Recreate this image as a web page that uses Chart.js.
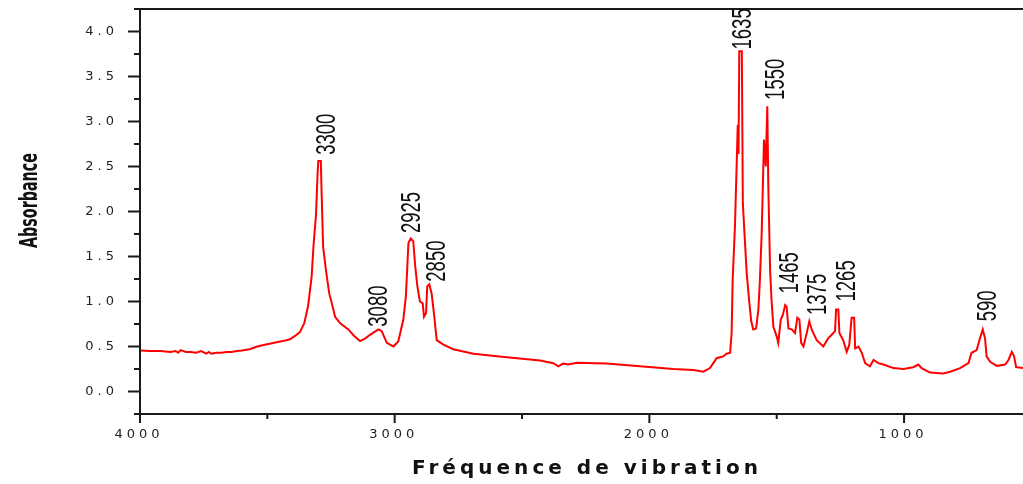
<!DOCTYPE html>
<html>
<head>
<meta charset="utf-8">
<script src="https://cdn.jsdelivr.net/npm/chart.js@4.4.1/dist/chart.umd.min.js"></script>
<style>
  html, body { margin: 0; padding: 0; background: #ffffff; }
  #wrap { width: 1023px; height: 484px; }
</style>
</head>
<body>
<div id="wrap"><canvas id="c" width="1023" height="484"></canvas></div>
<script>
// ---- Data ----
const wavenumbers = [
  4000, 3960, 3920, 3880, 3860, 3850, 3840, 3820, 3800, 3780, 3760, 3740, 3730, 3720, 3700, 3680, 3660, 3640, 3620, 3600,
  3570, 3540, 3510, 3477, 3440, 3411, 3390, 3372, 3355, 3340, 3326, 3319, 3309, 3303, 3300, 3290, 3287, 3281, 3270, 3257,
  3247, 3234, 3215, 3182, 3160, 3136, 3115, 3097, 3064, 3051, 3031, 3005, 2986, 2966, 2956, 2946, 2937, 2927, 2920, 2911,
  2901, 2890, 2885, 2877, 2872, 2864, 2855, 2846, 2835, 2809, 2770, 2691, 2560, 2429, 2377, 2357, 2345, 2338, 2320, 2285,
  2168, 2037, 1906, 1827, 1788, 1762, 1749, 1736, 1723, 1710, 1697, 1683, 1677, 1673, 1664, 1653, 1650, 1647, 1637, 1633,
  1618, 1608, 1600, 1592, 1581, 1572, 1566, 1559, 1550, 1543, 1537, 1533, 1526, 1520, 1513, 1500, 1494, 1484, 1476, 1467,
  1461, 1454, 1441, 1428, 1419, 1411, 1404, 1395, 1382, 1372, 1363, 1343, 1317, 1298, 1284, 1271, 1267, 1258, 1254, 1239,
  1225, 1215, 1206, 1196, 1192, 1179, 1166, 1153, 1134, 1120, 1101, 1081, 1042, 1003, 964, 944, 931, 898, 846, 819,
  780, 747, 735, 715, 702, 691, 682, 676, 662, 636, 603, 590, 577, 568, 560, 533
];
const absorbance = [
  0.456, 0.45, 0.45, 0.44, 0.45, 0.43, 0.46, 0.44, 0.44, 0.43, 0.45, 0.42, 0.44, 0.42, 0.43, 0.43, 0.44, 0.44, 0.45, 0.456,
  0.47, 0.50, 0.52, 0.54, 0.56, 0.58, 0.62, 0.66, 0.76, 0.95, 1.28, 1.61, 1.96, 2.40, 2.56, 2.56, 2.22, 1.61, 1.35, 1.09,
  0.98, 0.83, 0.76, 0.69, 0.62, 0.56, 0.59, 0.63, 0.69, 0.67, 0.54, 0.50, 0.556, 0.80, 1.06, 1.65, 1.70, 1.67, 1.41, 1.17,
  1.00, 0.98, 0.83, 0.87, 1.17, 1.19, 1.09, 0.87, 0.57, 0.52, 0.47, 0.42, 0.38, 0.344, 0.315, 0.28, 0.30, 0.31, 0.30, 0.32,
  0.31, 0.28, 0.25, 0.24, 0.22, 0.26, 0.315, 0.37, 0.38, 0.39, 0.42, 0.43, 0.65, 1.24, 1.83, 2.96, 2.64, 3.78, 3.78, 2.09,
  1.32, 1.00, 0.78, 0.69, 0.70, 0.91, 1.24, 1.76, 2.80, 2.50, 3.17, 2.28, 1.35, 1.00, 0.72, 0.61, 0.54, 0.80, 0.85, 0.96,
  0.94, 0.70, 0.69, 0.65, 0.82, 0.80, 0.54, 0.50, 0.65, 0.78, 0.69, 0.57, 0.50, 0.59, 0.63, 0.67, 0.91, 0.91, 0.65, 0.57,
  0.44, 0.52, 0.82, 0.82, 0.48, 0.50, 0.43, 0.315, 0.28, 0.35, 0.315, 0.30, 0.26, 0.25, 0.27, 0.30, 0.26, 0.21, 0.20, 0.22,
  0.26, 0.315, 0.43, 0.46, 0.59, 0.69, 0.59, 0.39, 0.33, 0.285, 0.30, 0.35, 0.44, 0.39, 0.27, 0.26
];
const xTickValues = [4000, 3000, 2000, 1000];
const xTickLabels = ['4000', '3000', '2000', '1000'];
const xMinorTickValues = [3500, 2500, 1500];
const yTickValues = [0.0, 0.5, 1.0, 1.5, 2.0, 2.5, 3.0, 3.5, 4.0];
const yTickLabels = ['0.0', '0.5', '1.0', '1.5', '2.0', '2.5', '3.0', '3.5', '4.0'];
const yMinorTickValues = [-0.25, 0.25, 0.75, 1.25, 1.75, 2.25, 2.75, 3.25, 3.75, 4.25];
const peakLabels = ['3300', '3080', '2925', '2850', '1635', '1550', '1465', '1375', '1265', '590'];
const peakLabelX = [3274, 3071, 2940, 2842, 1644, 1513, 1458, 1347, 1232, 682];
const peakLabelY = [2.63, 0.72, 1.76, 1.22, 3.80, 3.24, 1.09, 0.85, 1.00, 0.78];
const xTitle = 'Fréquence de vibration';
const yTitle = 'Absorbance';

const points = wavenumbers.map((w, i) => ({ x: w, y: absorbance[i] }));

const decor = {
  id: 'decor',
  afterDraw(chart) {
    const ctx = chart.ctx;
    const xs = chart.scales.x, ys = chart.scales.y;
    const a = chart.chartArea;
    ctx.save();
    // frame
    ctx.strokeStyle = '#1a1a1a';
    ctx.lineWidth = 2;
    ctx.beginPath();
    ctx.moveTo(a.left - 4, a.bottom); ctx.lineTo(a.right, a.bottom);
    ctx.moveTo(a.left, a.top); ctx.lineTo(a.left, a.bottom + 3);
    ctx.moveTo(a.left, a.top); ctx.lineTo(a.right, a.top);
    ctx.stroke();
    // ticks
    ctx.beginPath();
    xTickValues.forEach(v => { const p = xs.getPixelForValue(v); ctx.moveTo(p, a.bottom); ctx.lineTo(p, a.bottom + 9); });
    xMinorTickValues.forEach(v => { const p = xs.getPixelForValue(v); ctx.moveTo(p, a.bottom); ctx.lineTo(p, a.bottom + 5); });
    yTickValues.forEach(v => { const p = ys.getPixelForValue(v); ctx.moveTo(a.left, p); ctx.lineTo(a.left - 12, p); });
    yMinorTickValues.forEach(v => { const p = ys.getPixelForValue(v); ctx.moveTo(a.left, p); ctx.lineTo(a.left - 6, p); });
    ctx.stroke();

    // tick labels
    ctx.fillStyle = '#222';
    ctx.font = '13px "DejaVu Sans"';
    ctx.letterSpacing = '4px';
    ctx.textBaseline = 'middle';
    ctx.textAlign = 'left';
    xTickValues.forEach((v, i) => {
      const p = xs.getPixelForValue(v);
      const w = ctx.measureText(xTickLabels[i]).width - 4;
      ctx.fillText(xTickLabels[i], p - 3 - w / 2, a.bottom + 21);
    });
    yTickValues.forEach((v, i) => {
      const p = ys.getPixelForValue(v);
      const w = ctx.measureText(yTickLabels[i]).width - 4;
      ctx.fillText(yTickLabels[i], 114 - w, p);
    });
    ctx.letterSpacing = '0px';

    // peak labels (rotated, narrow)
    ctx.fillStyle = '#111';
    ctx.font = '28px "Liberation Sans"';
    ctx.textBaseline = 'alphabetic';
    ctx.textAlign = 'left';
    peakLabels.forEach((t, i) => {
      const cx = xs.getPixelForValue(peakLabelX[i]);
      const by = ys.getPixelForValue(peakLabelY[i]);
      const w = ctx.measureText(t).width;
      const sx = (t.length * 10.3) / w;
      ctx.save();
      ctx.translate(cx, by);
      ctx.rotate(-Math.PI / 2);
      ctx.scale(sx, 1);
      ctx.fillText(t, 0, 10.5);
      ctx.restore();
    });

    // x title
    ctx.fillStyle = '#111';
    ctx.font = 'bold 20px "DejaVu Sans"';
    ctx.textAlign = 'left';
    ctx.textBaseline = 'alphabetic';
    const tw0 = ctx.measureText(xTitle).width;
    const ls = (346 - tw0) / (xTitle.length - 1);
    ctx.letterSpacing = ls + 'px';
    ctx.fillText(xTitle, 585 - 173, 474);
    ctx.letterSpacing = '0px';

    // y title (rotated, condensed)
    ctx.font = 'bold 25px "DejaVu Sans"';
    const yw = ctx.measureText(yTitle).width;
    ctx.save();
    ctx.translate(28, 200.5);
    ctx.rotate(-Math.PI / 2);
    ctx.scale(95 / yw, 1);
    ctx.textAlign = 'center';
    ctx.fillText(yTitle, 0, 9);
    ctx.restore();

    ctx.restore();
  }
};

new Chart(document.getElementById('c'), {
  type: 'line',
  data: {
    datasets: [{
      data: points,
      borderColor: '#ff0000',
      borderWidth: 2,
      pointRadius: 0,
      tension: 0,
      fill: false
    }]
  },
  options: {
    responsive: false,
    animation: false,
    events: [],
    layout: { padding: { top: 9, left: 0, right: 0, bottom: 0 } },
    plugins: { legend: { display: false }, tooltip: { enabled: false } },
    scales: {
      x: {
        type: 'linear', reverse: true, min: 533, max: 4000,
        grid: { display: false, drawTicks: false }, border: { display: false },
        ticks: { display: false },
        afterFit(s) { s.height = 70; }
      },
      y: {
        type: 'linear', min: -0.25, max: 4.25,
        grid: { display: false, drawTicks: false }, border: { display: false },
        ticks: { display: false },
        afterFit(s) { s.width = 140; }
      }
    }
  },
  plugins: [decor]
});
</script>
</body>
</html>
